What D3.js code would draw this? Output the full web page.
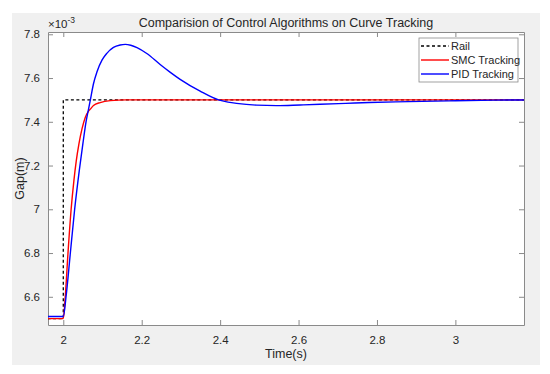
<!DOCTYPE html>
<html>
<head>
<meta charset="utf-8">
<script src="https://cdn.jsdelivr.net/npm/d3@7"></script>
<style>
  body { margin: 0; background: #fff; }
  text { font-family: "Liberation Sans", Arial, sans-serif; fill: #262626; }
</style>
</head>
<body>
<div id="chart"></div>
<script>
//------------------------------ DATA ------------------------------------------
var railT = [1.96, 2.0, 2.0, 3.18];
var railV = [6.50, 6.50, 7.50, 7.50];

var smcT = [1.96, 2.0, 2.005, 2.012, 2.020, 2.027, 2.033, 2.040, 2.048, 2.056,
            2.064, 2.069, 2.077, 2.094, 2.120, 2.160, 2.30, 3.18];
var smcV = [6.50, 6.50, 6.60, 6.80, 7.00, 7.13, 7.22, 7.30, 7.37, 7.42,
            7.448, 7.458, 7.474, 7.488, 7.497, 7.50, 7.50, 7.50];

var pidT = [1.96, 2.0, 2.007, 2.018, 2.029, 2.041, 2.050, 2.058, 2.064, 2.069,
            2.077, 2.086, 2.099, 2.111, 2.128, 2.145, 2.158, 2.172, 2.188, 2.213,
            2.247, 2.273, 2.298, 2.349, 2.396, 2.420, 2.442, 2.493, 2.544, 2.604,
            2.655, 2.720, 2.780, 2.880, 3.000, 3.100, 3.180];
var pidV = [6.51, 6.51, 6.60, 6.80, 7.00, 7.18, 7.30, 7.40, 7.455, 7.50,
            7.574, 7.629, 7.683, 7.713, 7.740, 7.751, 7.754, 7.750, 7.739, 7.712,
            7.662, 7.626, 7.594, 7.540, 7.500, 7.490, 7.484, 7.476, 7.474, 7.477,
            7.480, 7.484, 7.488, 7.492, 7.496, 7.499, 7.50];

var xTicks = [2, 2.2, 2.4, 2.6, 2.8, 3];
var yTicks = [6.6, 6.8, 7, 7.2, 7.4, 7.6, 7.8];
var xDomain = [1.961, 3.175];
var yDomain = [6.471, 7.8105];

var seriesNames = ["Rail", "SMC Tracking", "PID Tracking"];
var seriesColors = ["#000000", "#ff0000", "#0000ff"];

//------------------------------ SET-UP ----------------------------------------
var width = 550, height = 374;
var plotLeft = 48, plotRight = 524, plotTop = 32, plotBottom = 325;

var svg = d3.select("#chart").append("svg")
    .attr("width", width)
    .attr("height", height);

// figure background
svg.append("rect")
    .attr("x", 12).attr("y", 13)
    .attr("width", 528).attr("height", 352)
    .attr("fill", "#f0f0f0");

// axes background
svg.append("rect")
    .attr("x", plotLeft).attr("y", plotTop)
    .attr("width", plotRight - plotLeft).attr("height", plotBottom - plotTop)
    .attr("fill", "#ffffff");

var xScale = d3.scaleLinear().domain(xDomain).range([plotLeft, plotRight]);
var yScale = d3.scaleLinear().domain(yDomain).range([plotBottom, plotTop]);

//------------------------------ AXES ------------------------------------------
var axisColor = "#8a8a8a";

function styleAxis(g) {
    g.select(".domain").attr("stroke", axisColor);
    g.selectAll(".tick line").attr("stroke", axisColor);
    g.selectAll(".tick text")
        .attr("fill", "#262626")
        .style("font-size", "11.5px")
        .style("font-family", "'Liberation Sans', Arial, sans-serif");
}

svg.append("g")
    .attr("transform", "translate(0," + plotBottom + ")")
    .call(d3.axisBottom(xScale).tickValues(xTicks).tickSizeInner(-5).tickSizeOuter(0)
        .tickPadding(11).tickFormat(d3.format("~g")))
    .call(styleAxis);

svg.append("g")
    .attr("transform", "translate(0," + plotTop + ")")
    .call(d3.axisTop(xScale).tickValues(xTicks).tickSizeInner(-5).tickSizeOuter(0)
        .tickFormat(""))
    .call(styleAxis);

svg.append("g")
    .attr("transform", "translate(" + plotLeft + ",0)")
    .call(d3.axisLeft(yScale).tickValues(yTicks).tickSizeInner(-5).tickSizeOuter(0)
        .tickPadding(8).tickFormat(d3.format("~g")))
    .call(styleAxis);

svg.append("g")
    .attr("transform", "translate(" + plotRight + ",0)")
    .call(d3.axisRight(yScale).tickValues(yTicks).tickSizeInner(-5).tickSizeOuter(0)
        .tickFormat(""))
    .call(styleAxis);

//------------------------------ LINES -----------------------------------------
svg.append("clipPath").attr("id", "clip")
    .append("rect")
    .attr("x", plotLeft).attr("y", plotTop)
    .attr("width", plotRight - plotLeft).attr("height", plotBottom - plotTop);

function zipped(ts, vs) {
    return ts.map(function(t, i) { return [t, vs[i]]; });
}

var lineLinear = d3.line()
    .x(function(d) { return xScale(d[0]); })
    .y(function(d) { return yScale(d[1]); });

var lineSmooth = d3.line()
    .curve(d3.curveMonotoneX)
    .x(function(d) { return xScale(d[0]); })
    .y(function(d) { return yScale(d[1]); });

var plot = svg.append("g").attr("clip-path", "url(#clip)");

plot.append("path")
    .datum(zipped(railT, railV))
    .attr("d", lineLinear)
    .attr("fill", "none")
    .attr("stroke", seriesColors[0])
    .attr("stroke-width", 1.3)
    .attr("stroke-dasharray", "3,2.5");

plot.append("path")
    .datum(zipped(smcT, smcV))
    .attr("d", lineSmooth)
    .attr("fill", "none")
    .attr("stroke", seriesColors[1])
    .attr("stroke-width", 1.4);

plot.append("path")
    .datum(zipped(pidT, pidV))
    .attr("d", lineSmooth)
    .attr("fill", "none")
    .attr("stroke", seriesColors[2])
    .attr("stroke-width", 1.4);

//------------------------------ TEXT ------------------------------------------
svg.append("text")
    .attr("x", 286).attr("y", 27)
    .attr("text-anchor", "middle")
    .style("font-size", "12.5px")
    .text("Comparision of Control Algorithms on Curve Tracking");

var expo = svg.append("text")
    .attr("x", 48).attr("y", 28)
    .style("font-size", "11.5px");
expo.append("tspan").text("\u00d710");
expo.append("tspan").attr("dy", -5).style("font-size", "8.5px").text("-3");

svg.append("text")
    .attr("x", 286).attr("y", 358)
    .attr("text-anchor", "middle")
    .style("font-size", "12.5px")
    .text("Time(s)");

svg.append("text")
    .attr("transform", "translate(24," + ((plotTop + plotBottom) / 2) + ") rotate(-90)")
    .attr("text-anchor", "middle")
    .style("font-size", "12.5px")
    .text("Gap(m)");

//------------------------------ LEGEND ----------------------------------------
var legend = svg.append("g").attr("transform", "translate(419,38)");

legend.append("rect")
    .attr("width", 99).attr("height", 44)
    .attr("fill", "#ffffff")
    .attr("stroke", "#8a8a8a")
    .attr("stroke-width", 0.8);

seriesNames.forEach(function(name, i) {
    var y = 8 + i * 14;
    legend.append("line")
        .attr("x1", 2).attr("x2", 30)
        .attr("y1", y).attr("y2", y)
        .attr("stroke", seriesColors[i])
        .attr("stroke-width", 1.4)
        .attr("stroke-dasharray", i === 0 ? "3,2.5" : null);
    legend.append("text")
        .attr("x", 32).attr("y", y + 4)
        .style("font-size", "11px")
        .text(name);
});
</script>
</body>
</html>
